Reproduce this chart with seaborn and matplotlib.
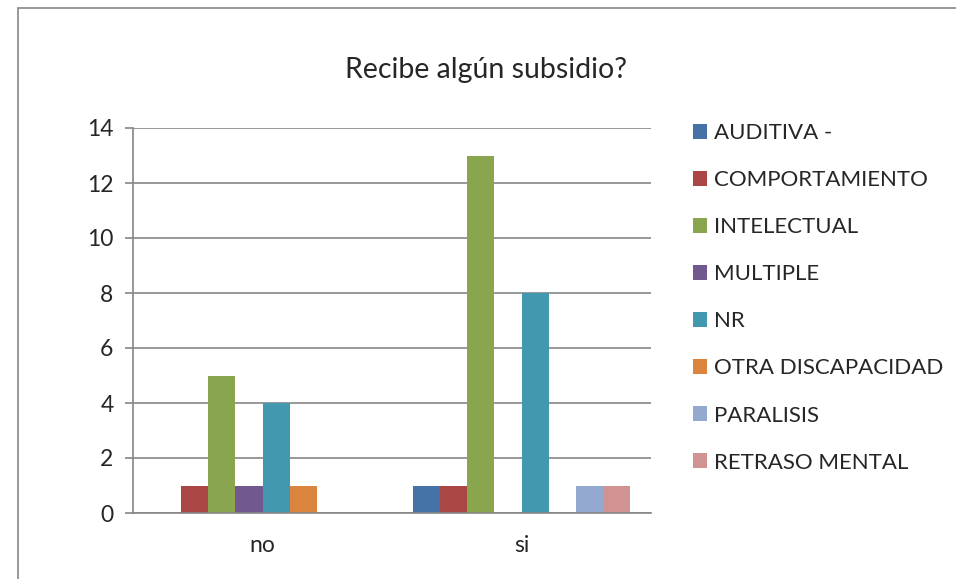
import numpy as np
import pandas as pd
import seaborn as sns
import matplotlib.pyplot as plt
from matplotlib.patches import Rectangle, Patch

# data
categories = ['no', 'si']
series = ['AUDITIVA -', 'COMPORTAMIENTO', 'INTELECTUAL', 'MULTIPLE', 'NR',
          'OTRA DISCAPACIDAD', 'PARALISIS', 'RETRASO MENTAL']
values_no = [0, 1, 5, 1, 4, 1, 0, 0]
values_si = [1, 1, 13, 0, 8, 0, 1, 1]
colors = ['#4572A7', '#AA4643', '#89A54E', '#71588F', '#4198AF', '#DB843D', '#93A9CF', '#D19392']

rows = []
for s, a, b in zip(series, values_no, values_si):
    rows.append({'cat': 'no', 'serie': s, 'n': a})
    rows.append({'cat': 'si', 'serie': s, 'n': b})
df = pd.DataFrame(rows)

sns.set_style('white')
plt.rcParams['font.family'] = ['Lato', 'DejaVu Sans']

fig = plt.figure(figsize=(9.56, 5.79), dpi=100)
ax = fig.add_axes([133/956, 1-513/579, (651-133)/956, (513-128)/579])

sns.barplot(data=df, x='cat', y='n', hue='serie', order=categories, hue_order=series,
            palette=colors, width=0.834, linewidth=0, saturation=1, legend=False, ax=ax)

ax.set_xlim(-0.5, 1.5)
ax.set_ylim(0, 14)
ax.set_yticks(range(0, 15, 2))
ax.yaxis.grid(True, color='#868686', linewidth=1.2)
ax.set_axisbelow(True)
ax.set_xlabel('')
ax.set_ylabel('')
for side in ['top', 'right']:
    ax.spines[side].set_visible(False)
for side in ['left', 'bottom']:
    ax.spines[side].set_color('#868686')
    ax.spines[side].set_linewidth(1.2)
ax.set_xticks([-0.5, 0.5, 1.5], minor=True)
ax.tick_params(axis='x', which='major', length=0, pad=16, labelsize=16.5)
ax.tick_params(axis='x', which='minor', length=6, color='#868686', width=1.2, direction='out')
ax.tick_params(axis='y', length=6, color='#868686', width=1.2, direction='out', labelsize=16.5, pad=8)
ax.tick_params(left=True)

fig.text(486/956, 1-70/579, 'Recibe algún subsidio?', ha='center', va='center', fontsize=20.5)

handles = [Patch(facecolor=c, edgecolor='none') for c in colors]
fig.legend(handles, series, loc='upper left', bbox_to_anchor=(684/956, 1-114/579),
           frameon=False, fontsize=16, handlelength=0.65, handleheight=0.65,
           handletextpad=0.3, labelspacing=1.22, borderaxespad=0)

fig.add_artist(Rectangle((18/956, -0.01), 1, 1.01-8/579, transform=fig.transFigure,
                         fill=False, edgecolor='#868686', linewidth=1.2))

fig.savefig('out.png', dpi=100)
